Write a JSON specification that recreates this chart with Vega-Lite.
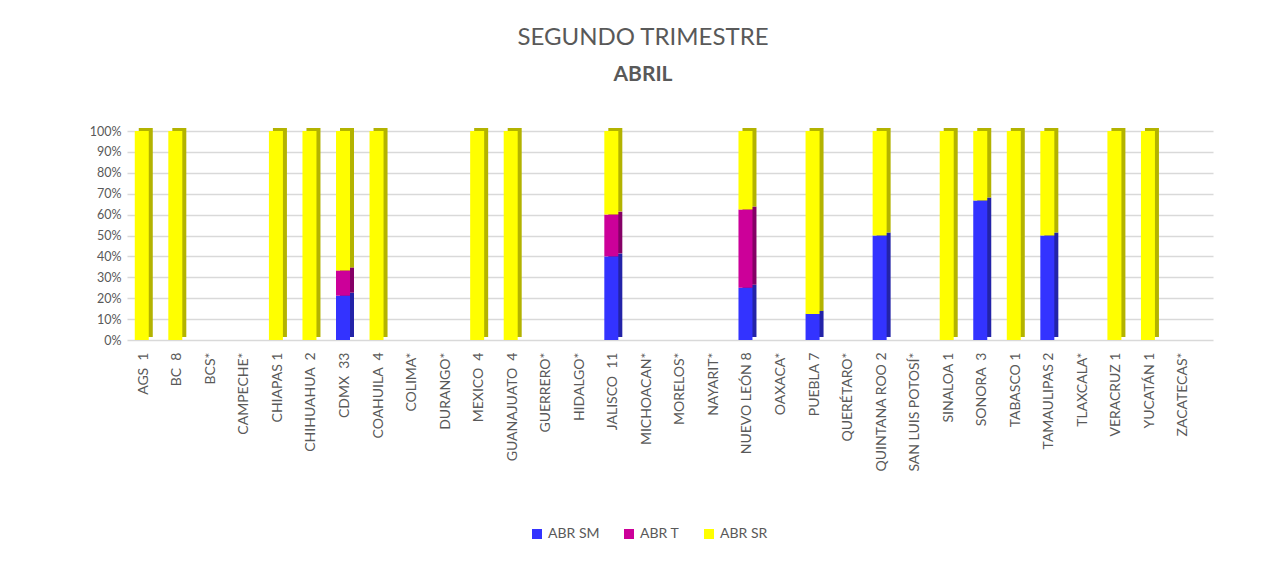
{
  "$schema": "https://vega.github.io/schema/vega-lite/v6.json",
  "autosize": {"type": "none"},
  "width": 1086,
  "height": 209,
  "padding": {"left": 127, "top": 131, "right": 67, "bottom": 222},
  "background": "white",
  "config": {
    "font": "Lato",
    "view": {"stroke": null},
    "title": {"color": "#595959", "subtitleColor": "#595959"}
  },
  "title": {
    "text": "SEGUNDO TRIMESTRE",
    "subtitle": "ABRIL",
    "anchor": "middle",
    "fontSize": 24,
    "fontWeight": "normal",
    "subtitleFontSize": 21,
    "subtitleFontWeight": "bold",
    "subtitlePadding": 14,
    "offset": 40,
    "dx": -27
  },
  "data": {
    "values": [
      {"estado": "AGS\u00a0 1", "serie": "ABR SR", "k": 3, "v": 1},
      {"estado": "BC\u00a0 8", "serie": "ABR SR", "k": 3, "v": 1},
      {"estado": "CHIAPAS 1", "serie": "ABR SR", "k": 3, "v": 1},
      {"estado": "CHIHUAHUA\u00a0 2", "serie": "ABR SR", "k": 3, "v": 1},
      {"estado": "CDMX\u00a0 33", "serie": "ABR SM", "k": 1, "v": 0.212},
      {"estado": "CDMX\u00a0 33", "serie": "ABR T", "k": 2, "v": 0.121},
      {"estado": "CDMX\u00a0 33", "serie": "ABR SR", "k": 3, "v": 0.667},
      {"estado": "COAHUILA\u00a0 4", "serie": "ABR SR", "k": 3, "v": 1},
      {"estado": "MEXICO\u00a0 4", "serie": "ABR SR", "k": 3, "v": 1},
      {"estado": "GUANAJUATO\u00a0 4", "serie": "ABR SR", "k": 3, "v": 1},
      {"estado": "JALISCO\u00a0 11", "serie": "ABR SM", "k": 1, "v": 0.4},
      {"estado": "JALISCO\u00a0 11", "serie": "ABR T", "k": 2, "v": 0.2},
      {"estado": "JALISCO\u00a0 11", "serie": "ABR SR", "k": 3, "v": 0.4},
      {"estado": "NUEVO LEÓN 8", "serie": "ABR SM", "k": 1, "v": 0.25},
      {"estado": "NUEVO LEÓN 8", "serie": "ABR T", "k": 2, "v": 0.375},
      {"estado": "NUEVO LEÓN 8", "serie": "ABR SR", "k": 3, "v": 0.375},
      {"estado": "PUEBLA 7", "serie": "ABR SM", "k": 1, "v": 0.125},
      {"estado": "PUEBLA 7", "serie": "ABR SR", "k": 3, "v": 0.875},
      {"estado": "QUINTANA ROO 2", "serie": "ABR SM", "k": 1, "v": 0.5},
      {"estado": "QUINTANA ROO 2", "serie": "ABR SR", "k": 3, "v": 0.5},
      {"estado": "SINALOA 1", "serie": "ABR SR", "k": 3, "v": 1},
      {"estado": "SONORA\u00a0 3", "serie": "ABR SM", "k": 1, "v": 0.667},
      {"estado": "SONORA\u00a0 3", "serie": "ABR SR", "k": 3, "v": 0.333},
      {"estado": "TABASCO 1", "serie": "ABR SR", "k": 3, "v": 1},
      {"estado": "TAMAULIPAS 2", "serie": "ABR SM", "k": 1, "v": 0.5},
      {"estado": "TAMAULIPAS 2", "serie": "ABR SR", "k": 3, "v": 0.5},
      {"estado": "VERACRUZ 1", "serie": "ABR SR", "k": 3, "v": 1},
      {"estado": "YUCATÁN 1", "serie": "ABR SR", "k": 3, "v": 1}
    ]
  },
  "encoding": {
    "x": {
      "field": "estado",
      "type": "nominal",
      "scale": {
        "domain": ["AGS\u00a0 1", "BC\u00a0 8", "BCS*", "CAMPECHE*", "CHIAPAS 1", "CHIHUAHUA\u00a0 2", "CDMX\u00a0 33", "COAHUILA\u00a0 4", "COLIMA*", "DURANGO*", "MEXICO\u00a0 4", "GUANAJUATO\u00a0 4", "GUERRERO*", "HIDALGO*", "JALISCO\u00a0 11", "MICHOACAN*", "MORELOS*", "NAYARIT*", "NUEVO LEÓN 8", "OAXACA*", "PUEBLA 7", "QUERÉTARO*", "QUINTANA ROO 2", "SAN LUIS POTOSÍ*", "SINALOA 1", "SONORA\u00a0 3", "TABASCO 1", "TAMAULIPAS 2", "TLAXCALA*", "VERACRUZ 1", "YUCATÁN 1", "ZACATECAS*"],
        "paddingInner": 0,
        "paddingOuter": 0.19,
        "align": 0
      },
      "axis": {
        "title": null,
        "labelAngle": -90,
        "labelAlign": "right",
        "labelBaseline": "middle",
        "labelFontSize": 14,
        "labelColor": "#595959",
        "labelPadding": 12,
        "ticks": false,
        "domain": false,
        "grid": false,
        "labelLimit": 300
      }
    },
    "y": {
      "field": "v",
      "type": "quantitative",
      "stack": "zero",
      "scale": {"domain": [0, 1], "nice": false},
      "axis": {
        "title": null,
        "values": [0, 0.1, 0.2, 0.3, 0.4, 0.5, 0.6, 0.7, 0.8, 0.9, 1],
        "format": ".0%",
        "labelFontSize": 12.5,
        "labelColor": "#595959",
        "labelPadding": 6,
        "ticks": false,
        "domain": false,
        "gridColor": "#D9D9D9",
        "gridWidth": 1.5
      }
    },
    "order": {"field": "k", "type": "quantitative"}
  },
  "layer": [
    {
      "mark": {"type": "bar", "size": 14, "xOffset": 2, "yOffset": -3},
      "encoding": {
        "color": {
          "field": "serie",
          "type": "nominal",
          "scale": {"domain": ["ABR SM", "ABR T", "ABR SR"], "range": ["#2323A8", "#850066", "#B3B300"]},
          "legend": null
        }
      }
    },
    {
      "mark": {"type": "bar", "size": 14, "xOffset": -2},
      "encoding": {
        "color": {
          "field": "serie",
          "type": "nominal",
          "scale": {"domain": ["ABR SM", "ABR T", "ABR SR"], "range": ["#3333FF", "#CC0099", "#FFFF00"]},
          "legend": {
            "title": null,
            "orient": "none",
            "direction": "horizontal",
            "legendX": 403,
            "legendY": 396,
            "symbolType": "square",
            "symbolSize": 100,
            "symbolStrokeWidth": 0,
            "labelFontSize": 14,
            "labelColor": "#595959",
            "columnPadding": 22
          }
        }
      }
    }
  ],
  "resolve": {"scale": {"color": "independent"}}
}
